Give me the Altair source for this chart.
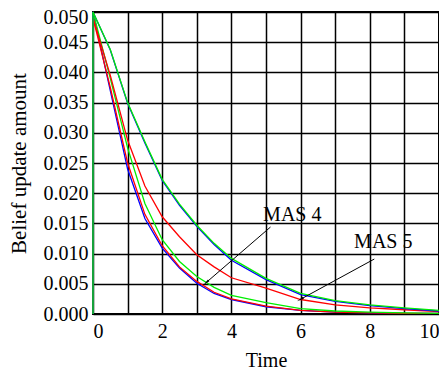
import altair as alt
import pandas as pd

# ---- data ----
t = [0, 0.5, 1, 1.5, 2, 2.5, 3, 3.5, 4, 5, 6, 7, 8, 9, 10]
fast_blue = [0.050, 0.0370, 0.0240, 0.0158, 0.0109, 0.0076, 0.0051, 0.0034, 0.0024, 0.0012, 0.0006, 0.0003, 0.0002, 0.0001, 0.0001]
fast_red = [0.049, 0.0375, 0.0250, 0.0165, 0.0113, 0.0078, 0.0054, 0.0036, 0.0025, 0.0013, 0.0006, 0.0003, 0.0002, 0.0001, 0.0001]
mid_green = [0.050, 0.0390, 0.0275, 0.0183, 0.0123, 0.0087, 0.0062, 0.0044, 0.0031, 0.0019, 0.0009, 0.0005, 0.0003, 0.0002, 0.0001]
mid_red = [0.049, 0.0395, 0.0288, 0.0212, 0.0161, 0.0128, 0.0098, 0.0078, 0.0060, 0.0043, 0.0024, 0.0015, 0.0010, 0.0007, 0.0004]
slow_blue = [0.050, 0.0437, 0.0349, 0.0283, 0.0221, 0.0180, 0.0145, 0.0115, 0.0089, 0.0057, 0.0032, 0.0021, 0.0014, 0.0009, 0.0005]
slow_green = [0.050, 0.0438, 0.0350, 0.0285, 0.0223, 0.0182, 0.0147, 0.0117, 0.0092, 0.0059, 0.0034, 0.0022, 0.0015, 0.0010, 0.0006]

series = [
    ("fast_blue", fast_blue, "#0000ff"),
    ("fast_red", fast_red, "#ff0000"),
    ("mid_green", mid_green, "#00ee00"),
    ("mid_red", mid_red, "#ff0000"),
    ("slow_blue", slow_blue, "#0000ff"),
    ("slow_green", slow_green, "#00ee00"),
]

x_ticks = list(range(0, 11))
y_ticks = [0.000, 0.005, 0.010, 0.015, 0.020, 0.025, 0.030, 0.035, 0.040, 0.045, 0.050]

ann_labels = ["MAS 4", "MAS 5"]
ann_x = [5.76, 8.39]
ann_y = [0.0164, 0.0120]
arrow_x = [5.13, 8.13]
arrow_y = [0.0144, 0.0091]
arrow_x2 = [3.29, 6.02]
arrow_y2 = [0.0053, 0.0025]
arrow_angle = [229, 241]

font = "Liberation Serif"

rows = []
for name, vals, _ in series:
    rows.append({"series": name, "t": 0.0, "value": 0.0, "idx": 0})
    for i, (tt, v) in enumerate(zip(t, vals)):
        rows.append({"series": name, "t": tt, "value": v, "idx": i + 1})
df = pd.DataFrame(rows)

xscale = alt.Scale(domain=[0, 10], nice=False)
yscale = alt.Scale(domain=[0, 0.05], nice=False)
x_axis = alt.Axis(title="Time", values=x_ticks, labelOverlap=False,
                  labelExpr="datum.value % 2 == 0 ? datum.label : ''")
y_axis = alt.Axis(title="Belief update amount", values=y_ticks,
                  labelOverlap=False, format=".3f",
                  labelOffset={"condition": {"test": "datum.value >= 0.0499", "value": 5}, "value": 0})


def X(field):
    return alt.X(field, scale=xscale, axis=x_axis)


def Y(field):
    return alt.Y(field, scale=yscale, axis=y_axis)


layers = []
for name, _, color in series:
    layers.append(
        alt.Chart(df).transform_filter(alt.datum.series == name)
        .mark_line(color=color, strokeWidth=1.3, clip=False)
        .encode(x=X("t:Q"), y=Y("value:Q"), order="idx:Q")
    )

ann = pd.DataFrame({"label": ann_labels, "x": ann_x, "y": ann_y})
arr = pd.DataFrame({"x": arrow_x, "y": arrow_y, "x2": arrow_x2, "y2": arrow_y2, "angle": arrow_angle})

text = alt.Chart(ann).mark_text(font=font, fontSize=20, color="black").encode(
    x=X("x:Q"), y=Y("y:Q"), text="label:N")
rules = alt.Chart(arr).mark_rule(color="black", strokeWidth=1).encode(
    x=X("x:Q"), y=Y("y:Q"), x2="x2:Q", y2="y2:Q")
heads = alt.Chart(arr).mark_point(shape="wedge", filled=True, color="black", size=70, opacity=1).encode(
    x=X("x2:Q"), y=Y("y2:Q"), angle=alt.Angle("angle:Q", scale=None))

chart = alt.layer(*layers, rules, heads, text).properties(
    width=346, height=302,
    background="white",
    autosize=alt.AutoSizeParams(type="none"),
    padding={"left": 85, "top": 4, "right": 0, "bottom": 56},
).configure_view(
    stroke="black", strokeWidth=2
).configure_axis(
    grid=True, gridColor="black", gridWidth=1.5, gridOpacity=1,
    domain=False, ticks=False,
    labelFont=font, labelFontSize=20, labelColor="black",
    titleFont=font, titleColor="black", titleFontWeight="normal",
).configure_axisY(
    labelPadding=5, titlePadding=14, titleFontSize=21,
).configure_axisX(
    labelPadding=7, titlePadding=9, titleFontSize=20,
)

chart.save("out.html", embed_options={"renderer": "svg", "actions": False})
